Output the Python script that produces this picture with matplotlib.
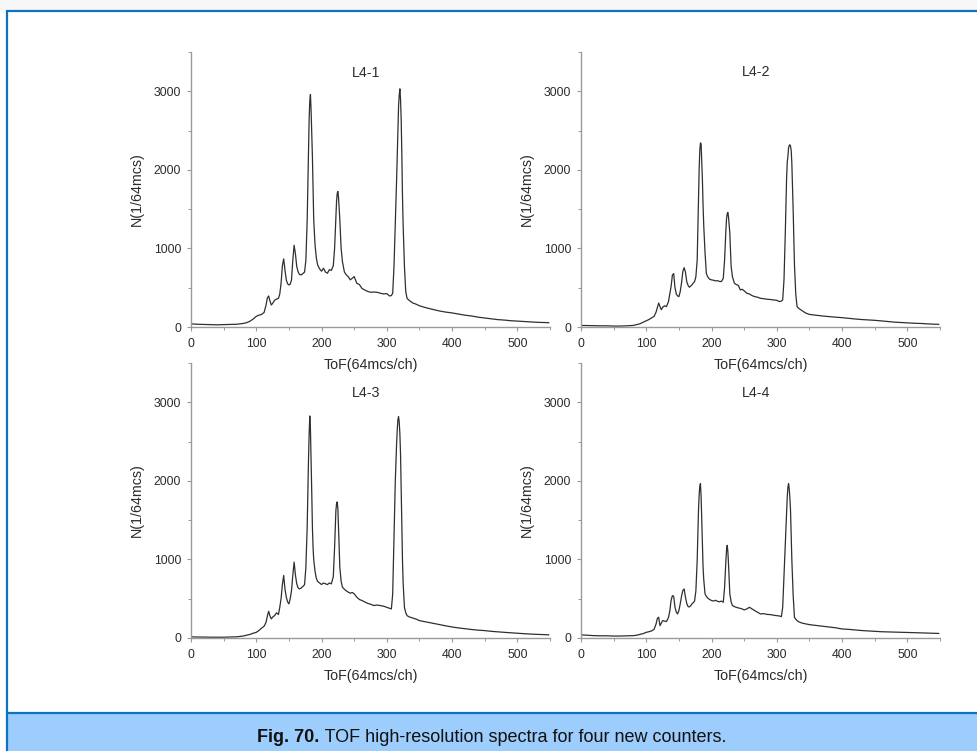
import matplotlib
matplotlib.use("Agg")
import matplotlib.pyplot as plt
from matplotlib.patches import Rectangle
from matplotlib.lines import Line2D
from matplotlib.ticker import MultipleLocator

plt.rcParams['font.family'] = ['Liberation Sans', 'DejaVu Sans']

# ---------------- data ----------------
channels = [
    0, 10, 20, 30, 40, 50, 60, 70, 80, 85, 90, 95, 100,
    104, 108, 112, 115, 117, 119, 121, 123, 125, 128, 131, 134, 136, 138, 140, 142, 144, 146, 148, 150,
    152, 154, 156, 158, 160, 162, 164, 166, 168, 170, 172, 174, 176,
    178, 179, 180, 181, 182, 183, 184, 185, 186, 187, 188, 190, 192, 194, 197,
    200, 203, 206, 209, 212, 215, 218, 220, 222, 223, 224, 225, 226, 228, 230, 232, 235, 238,
    241, 244, 247, 250, 254, 258, 262, 266, 270, 275, 280, 285, 290, 295, 300, 304, 307, 309, 311, 313,
    315, 316, 317, 318, 319, 320, 321, 322, 323, 324, 325, 327, 329, 331, 334, 337, 340,
    345, 350, 360, 370, 380, 390, 400, 410, 420, 430, 440, 450, 460, 470, 480, 490, 500, 510, 520, 530, 540, 548,
]

counts_L4_1 = [
    40, 35, 32, 30, 28, 30, 32, 35, 45, 55, 72, 100, 136,
    150, 160, 185, 280, 370, 395, 330, 280, 300, 340, 355, 365, 420, 557, 780, 867, 720, 600, 550, 535,
    545, 600, 855, 1040, 930, 770, 705, 670, 663, 670, 684, 700, 850,
    1365, 1800, 2300, 2650, 2880, 2959, 2750, 2450, 2172, 1750, 1365, 1050, 880, 790, 740,
    710, 748, 700, 684, 730, 720, 780, 1000, 1400, 1600, 1700, 1726, 1650, 1365, 1000, 833, 700, 663,
    640, 600, 620, 642, 557, 540, 490, 472, 455, 442, 445, 442, 430, 421, 425, 395, 400, 430, 770, 1300,
    1875, 2200, 2500, 2810, 2950, 3031, 2900, 2640, 2200, 1662, 1300, 770, 450, 365, 340, 323, 305,
    290, 270, 245, 225, 205, 190, 179, 165, 150, 140, 125, 115, 105, 94, 88, 80, 75, 70, 66, 60, 58, 55,
]

counts_L4_2 = [
    20, 18, 15, 15, 15, 12, 12, 15, 20, 30, 40, 60, 80,
    95, 115, 135, 190, 250, 305, 260, 220, 250, 270, 260, 323, 420, 514, 660, 680, 500, 420, 395, 387,
    450, 560, 706, 755, 700, 578, 530, 506, 520, 536, 560, 578, 640,
    855, 1250, 1662, 2000, 2250, 2343, 2330, 2100, 1875, 1550, 1300, 950, 685, 640, 608,
    600, 595, 587, 590, 580, 578, 620, 855, 1237, 1380, 1440, 1458, 1400, 1195, 770, 640, 557, 540,
    530, 472, 480, 460, 430, 420, 400, 387, 380, 365, 360, 353, 350, 344, 340, 323, 330, 344, 600, 1200,
    1900, 2100, 2172, 2280, 2310, 2320, 2300, 2250, 2088, 1800, 1500, 800, 420, 260, 235, 217, 200,
    175, 160, 150, 140, 132, 125, 119, 110, 102, 95, 90, 85, 78, 70, 62, 57, 51, 48, 45, 40, 36, 34,
]

counts_L4_3 = [
    15, 12, 12, 10, 10, 10, 12, 15, 25, 35, 45, 60, 72,
    95, 125, 150, 200, 280, 340, 280, 243, 265, 285, 320, 300, 391, 500, 680, 796, 620, 520, 460, 434,
    500, 604, 800, 966, 800, 690, 640, 625, 630, 647, 660, 680, 900,
    1413, 1850, 2264, 2600, 2826, 2650, 2264, 1850, 1413, 1150, 1000, 850, 760, 720, 700,
    681, 700, 690, 680, 700, 689, 780, 1157, 1625, 1710, 1732, 1650, 1413, 902, 720, 647, 620, 600,
    583, 570, 580, 562, 520, 490, 477, 460, 443, 430, 413, 420, 413, 405, 391, 380, 370, 562, 1300, 2000,
    2477, 2650, 2780, 2817, 2750, 2600, 2349, 1900, 1400, 987, 700, 391, 320, 285, 270, 262, 255,
    240, 221, 205, 188, 172, 155, 140, 128, 118, 108, 100, 94, 85, 78, 72, 66, 60, 55, 50, 47, 43, 40,
]

counts_L4_4 = [
    40, 35, 30, 28, 28, 25, 25, 28, 30, 35, 45, 55, 72,
    80, 90, 110, 179, 250, 265, 157, 190, 221, 215, 210, 260, 340, 477, 540, 530, 391, 330, 306, 350,
    434, 530, 604, 625, 520, 440, 400, 395, 410, 434, 450, 470, 600,
    987, 1300, 1625, 1820, 1930, 1966, 1800, 1498, 1200, 902, 750, 562, 530, 510, 490,
    477, 470, 480, 468, 460, 470, 455, 647, 987, 1120, 1179, 1100, 940, 562, 460, 413, 400, 390,
    383, 375, 370, 357, 370, 391, 370, 349, 330, 306, 310, 300, 298, 290, 285, 280, 272, 391, 800, 1200,
    1625, 1800, 1920, 1966, 1900, 1780, 1625, 1300, 1000, 774, 550, 264, 240, 221, 205, 195, 187,
    178, 170, 160, 150, 140, 130, 115, 110, 102, 95, 90, 85, 80, 77, 75, 73, 72, 68, 65, 62, 60, 58,
]

panel_titles = ["L4-1", "L4-2", "L4-3", "L4-4"]
x_label = "ToF(64mcs/ch)"
y_label = "N(1/64mcs)"
caption_bold = "Fig. 70."
caption_text = " TOF high-resolution spectra for four new counters."

series = [counts_L4_1, counts_L4_2, counts_L4_3, counts_L4_4]

# ---------------- figure ----------------
W, H = 977, 751
fig = plt.figure(figsize=(W / 100, H / 100), dpi=100)
fig.patch.set_facecolor('white')

def fx(px):
    return px / W

def fy(py):
    return 1 - py / H

# top grey strip
fig.patches.append(Rectangle((0, fy(10)), 1, 10 / H, transform=fig.transFigure,
                             facecolor='#f7f7f7', edgecolor='none', zorder=0))
# caption background
fig.patches.append(Rectangle((fx(7), 0), 1, fy(713), transform=fig.transFigure,
                             facecolor='#9dcdfd', edgecolor='none', zorder=0))
border_c = '#0b72c4'
fig.lines.append(Line2D([fx(7), fx(7)], [0, fy(10)], transform=fig.transFigure,
                        color=border_c, lw=1.6, solid_capstyle='butt'))
fig.lines.append(Line2D([fx(6), 1], [fy(11), fy(11)], transform=fig.transFigure,
                        color=border_c, lw=1.6, solid_capstyle='butt'))
fig.lines.append(Line2D([fx(6), 1], [fy(712.5), fy(712.5)], transform=fig.transFigure,
                        color=border_c, lw=1.6, solid_capstyle='butt'))

# axes positions (pixel boxes: left, right, top, bottom) and title pixel row
boxes = [(191, 550, 52, 327), (581, 940, 52, 327),
         (191, 550, 363, 638), (581, 940, 363, 638)]
title_rows = [73, 72, 393, 393]

axis_c = '#9a9a9a'
text_c = '#2b2b2b'
for (l, r, t, b), ys, title, trow in zip(boxes, series, panel_titles, title_rows):
    ax = fig.add_axes([fx(l), fy(b), (r - l) / W, (b - t) / H])
    ax.plot(channels, ys, color='#2f2f2f', lw=0.9)
    ax.set_xlim(0, 550)
    ax.set_ylim(0, 3500)
    for s in ('top', 'right'):
        ax.spines[s].set_visible(False)
    for s in ('left', 'bottom'):
        ax.spines[s].set_color(axis_c)
        ax.spines[s].set_linewidth(1.0)
    ax.xaxis.set_major_locator(MultipleLocator(100))
    ax.xaxis.set_minor_locator(MultipleLocator(50))
    ax.yaxis.set_major_locator(MultipleLocator(1000))
    ax.yaxis.set_minor_locator(MultipleLocator(500))
    ax.tick_params(axis='both', which='major', length=3, width=0.8, color=axis_c,
                   labelsize=8.8, labelcolor=text_c, direction='out')
    ax.tick_params(axis='x', which='major', pad=5)
    ax.tick_params(axis='y', which='major', pad=4)
    ax.tick_params(axis='both', which='minor', length=2, width=0.7, color=axis_c,
                   direction='out')
    ax.set_xlabel(x_label, fontsize=10.3, color=text_c, labelpad=6)
    ax.set_ylabel(y_label, fontsize=10.3, color=text_c, labelpad=7)
    fig.text(fx((l + r) / 2 - 4), fy(trow), title, ha='center', va='center',
             fontsize=10.3, color=text_c)
    ax.patch.set_alpha(0)

# caption (bold + regular, centred together)
fs_cap = 13
t1 = fig.text(0, fy(737), caption_bold, fontsize=fs_cap, fontweight='bold',
              va='center', ha='left', color='#111111')
t2 = fig.text(0, fy(737), caption_text, fontsize=fs_cap, va='center', ha='left',
              color='#111111')
rend = fig.canvas.get_renderer()
w1 = t1.get_window_extent(rend).width
w2 = t2.get_window_extent(rend).width
start = (W - (w1 + w2)) / 2 + 3
t1.set_x(start / W)
t2.set_x((start + w1) / W)

fig.savefig('out.png', dpi=100)
